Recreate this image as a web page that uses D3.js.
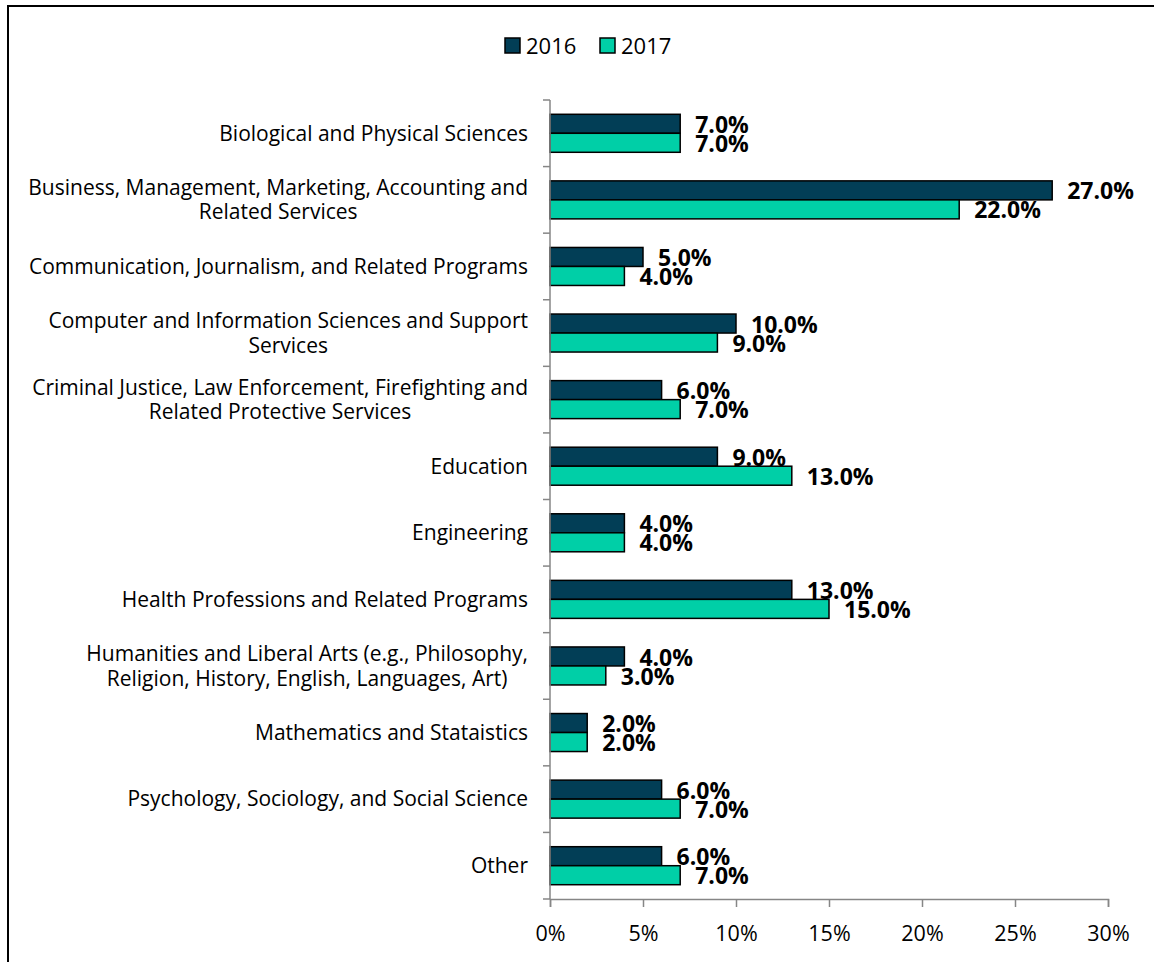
<!DOCTYPE html>
<meta charset="utf-8">
<style>
html, body { margin: 0; padding: 0; background: #fff; }
svg { display: block; font-family: "Open Sans", Lato, sans-serif; }
</style>
<body>
<script src="https://d3js.org/d3.v7.min.js"></script>
<script>

// data
var categories = [
  ["Biological and Physical Sciences"],
  ["Business, Management, Marketing, Accounting and", "Related Services"],
  ["Communication, Journalism, and Related Programs"],
  ["Computer and Information Sciences and Support", "Services"],
  ["Criminal Justice, Law Enforcement, Firefighting and", "Related Protective Services"],
  ["Education"],
  ["Engineering"],
  ["Health Professions and Related Programs"],
  ["Humanities and Liberal Arts (e.g., Philosophy,", "Religion, History, English, Languages, Art)"],
  ["Mathematics and Stataistics"],
  ["Psychology, Sociology, and Social Science"],
  ["Other"]
];
var series = ["2016", "2017"];
var values2016 = [7, 27, 5, 10, 6, 9, 4, 13, 4, 2, 6, 6];
var values2017 = [7, 22, 4, 9, 7, 13, 4, 15, 3, 2, 7, 7];
var xTicks = [0, 5, 10, 15, 20, 25, 30];
var colors = ["#023e56", "#00cfa7"];

var width = 1154,
    height = 962;

var svg = d3.select("body").append("svg")
    .attr("width", width)
    .attr("height", height);

// outer frame (right and bottom edges fall outside the picture)
svg.append("rect")
    .attr("x", 8).attr("y", 6)
    .attr("width", 1160).attr("height", 970)
    .attr("fill", "none")
    .attr("stroke", "#000")
    .attr("stroke-width", 2);

var x = d3.scaleLinear().domain([0, 30]).range([550, 1108]);
var y = d3.scaleBand().domain(d3.range(categories.length)).range([100, 899]);
var inner = d3.scaleBand().domain(series).range([0, 38]);

var rows = categories.map(function(c, i) {
  return { i: i, label: c, vals: [values2016[i], values2017[i]] };
});

// bars
var groups = svg.append("g").attr("class", "bars")
  .selectAll("g")
  .data(rows)
  .enter().append("g")
  .attr("transform", function(d) { return "translate(0," + (y(d.i) + y.bandwidth() / 2 - 19) + ")"; });

groups.selectAll("rect")
  .data(function(d) { return d.vals.map(function(v, k) { return { k: k, v: v }; }); })
  .enter().append("rect")
  .attr("x", x(0))
  .attr("y", function(d) { return inner(series[d.k]); })
  .attr("width", function(d) { return x(d.v) - x(0); })
  .attr("height", inner.bandwidth())
  .attr("fill", function(d) { return colors[d.k]; })
  .attr("stroke", "#000")
  .attr("stroke-width", 1.5);

groups.selectAll("text")
  .data(function(d) { return d.vals.map(function(v, k) { return { k: k, v: v }; }); })
  .enter().append("text")
  .attr("x", function(d) { return x(d.v) + 15; })
  .attr("y", function(d) { return inner(series[d.k]) + inner.bandwidth() / 2 + 1; })
  .attr("dy", "0.35em")
  .attr("font-size", 23)
  .attr("font-weight", "bold")
  .attr("fill", "#000")
  .text(function(d) { return d.v.toFixed(1) + "%"; });

// axes
var axisColor = "#868686";
var yAxis = svg.append("g").attr("class", "y-axis");
yAxis.append("line")
  .attr("x1", x(0)).attr("x2", x(0))
  .attr("y1", y.range()[0]).attr("y2", y.range()[1])
  .attr("stroke", axisColor).attr("stroke-width", 1.5);
yAxis.selectAll("line.tick")
  .data(d3.range(categories.length + 1))
  .enter().append("line")
  .attr("class", "tick")
  .attr("x1", x(0) - 7).attr("x2", x(0))
  .attr("y1", function(d) { return y.range()[0] + d * y.step(); })
  .attr("y2", function(d) { return y.range()[0] + d * y.step(); })
  .attr("stroke", axisColor).attr("stroke-width", 1.5);

var xAxis = svg.append("g")
  .attr("transform", "translate(0," + y.range()[1] + ")")
  .call(d3.axisBottom(x).tickValues(xTicks).tickSize(8).tickPadding(19)
    .tickFormat(function(d) { return d + "%"; }));
xAxis.select(".domain").attr("stroke", axisColor).attr("stroke-width", 1.5);
xAxis.selectAll(".tick line").attr("stroke", axisColor).attr("stroke-width", 1.5);
xAxis.selectAll(".tick text")
  .attr("font-size", 21.5)
  .attr("font-family", "'Open Sans', sans-serif")
  .attr("fill", "#000");

// category labels: lines centred within a block right-aligned to the axis
var labels = svg.append("g").attr("class", "labels")
  .selectAll("text")
  .data(rows)
  .enter().append("text")
  .attr("font-size", 21)
  .attr("fill", "#000")
  .attr("text-anchor", "middle");

labels.each(function(d) {
  var t = d3.select(this);
  var n = d.label.length;
  var cy = y(d.i) + y.bandwidth() / 2;
  d.label.forEach(function(line, j) {
    t.append("tspan")
      .attr("y", cy + (j - (n - 1) / 2) * 24.5)
      .attr("dy", "0.35em")
      .text(line);
  });
  var w = 0;
  t.selectAll("tspan").each(function() { w = Math.max(w, this.getComputedTextLength()); });
  t.selectAll("tspan").attr("x", 528 - w / 2);
});

// legend
var legend = svg.append("g").attr("class", "legend")
  .selectAll("g")
  .data(series)
  .enter().append("g")
  .attr("transform", function(d, i) { return "translate(" + (505 + i * 95) + ",38)"; });
legend.append("rect")
  .attr("width", 15).attr("height", 15)
  .attr("fill", function(d, i) { return colors[i]; })
  .attr("stroke", "#000").attr("stroke-width", 1.5);
legend.append("text")
  .attr("x", 21).attr("y", 8).attr("dy", "0.35em")
  .attr("font-size", 22)
  .text(function(d) { return d; });

</script>
</body>
